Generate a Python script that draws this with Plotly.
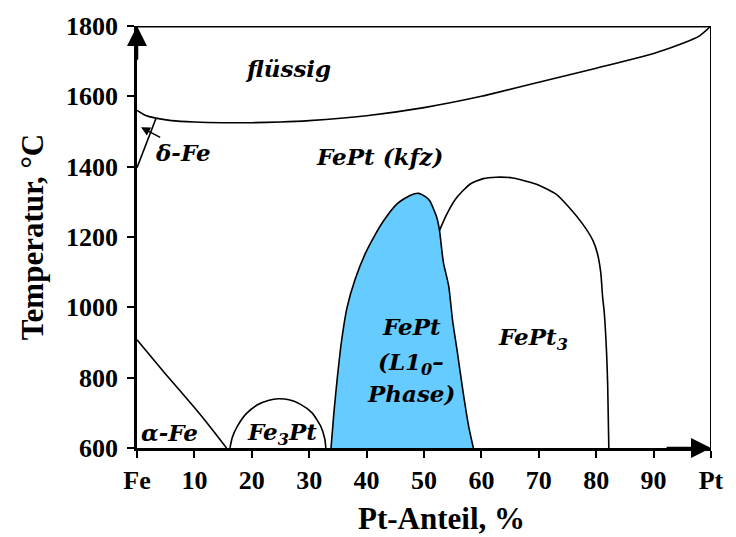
import plotly.graph_objects as go

# Phase boundaries of the Fe-Pt system (x: at.% Pt, T: °C)
liq_x = [0, 1, 2, 4, 6, 10, 15, 20, 25, 30, 40, 50, 60, 70, 80, 90, 95, 98, 100]
liq_T = [1560, 1550, 1543, 1536, 1531, 1527, 1525, 1525, 1527, 1531, 1545, 1568, 1600, 1640, 1680, 1722, 1750, 1772, 1800]

delta_x = [0, 3.3]
delta_T = [1397, 1537]

alpha_x = [0, 5, 10, 13, 15.6]
alpha_T = [908, 810, 715, 655, 600]

fe3pt_x = [16.2, 16.6, 17.5, 19, 21, 23, 24.6, 26.5, 28.5, 30.5, 32, 32.7, 32.9]
fe3pt_T = [600, 630, 662, 697, 723, 736, 740, 737, 724, 700, 662, 627, 600]

l10_x = [33.8, 34.3, 34.9, 35.6, 36.6, 38.0, 39.8, 41.5, 43.0, 45.3, 47.0, 48.2, 49.1, 50.3, 51.0, 52.2,
         52.7, 53.1, 53.4, 54.3, 55.0, 55.8, 56.8, 57.8, 58.6]
l10_T = [600, 700, 800, 900, 1000, 1080, 1154, 1207, 1247, 1294, 1313, 1322, 1324, 1314, 1303, 1257,
         1219, 1163, 1126, 1061, 960, 874, 760, 660, 600]

fept3_x = [52.7, 54.0, 55.7, 58.0, 60.3, 62.6, 65.5, 67.5, 69.6, 73.0, 75.3, 77.6, 79.4, 80.2, 80.8,
           81.1, 81.4, 81.8, 82.0, 82.2]
fept3_T = [1219, 1266, 1312, 1350, 1366, 1370, 1368, 1360, 1350, 1322, 1284, 1238, 1191, 1154, 1098,
           1033, 986, 874, 780, 600]

x_ticks = [0, 10, 20, 30, 40, 50, 60, 70, 80, 90, 100]
x_labels = ["Fe", "10", "20", "30", "40", "50", "60", "70", "80", "90", "Pt"]
y_ticks = [600, 800, 1000, 1200, 1400, 1600, 1800]

SERIF = "Liberation Serif"
LABEL_FONT = "DejaVu Serif"
line_style = dict(color="black", width=1.6)

fig = go.Figure()

fig.add_trace(go.Scatter(x=l10_x, y=l10_T, mode="lines", fill="toself", fillcolor="#66CCFF",
                         line=dict(line_style, shape="spline", smoothing=0.6), hoverinfo="skip"))
for xs, ts in [(liq_x, liq_T), (delta_x, delta_T), (alpha_x, alpha_T),
               (fe3pt_x, fe3pt_T), (fept3_x, fept3_T)]:
    fig.add_trace(go.Scatter(x=xs, y=ts, mode="lines",
                             line=dict(line_style, shape="spline", smoothing=0.6),
                             hoverinfo="skip"))

# field labels
labels = [
    (26.3, 1678, "flüssig"),
    (8.1, 1440, "δ-Fe"),
    (42.2, 1430, "FePt (kfz)"),
    (47.8, 945, "FePt"),
    (47.8, 840, "(L1<sub>0</sub>–"),
    (47.8, 755, "Phase)"),
    (69.0, 912, "FePt<sub>3</sub>"),
    (5.6, 645, "α-Fe"),
    (25.2, 642, "Fe<sub>3</sub>Pt"),
]
for lx, ly, lt in labels:
    fig.add_annotation(x=lx, y=ly, text=lt, showarrow=False,
                       font=dict(family=LABEL_FONT, size=23, color="black",
                                 weight="bold", style="italic"))

# pointer to the δ-Fe field
fig.add_annotation(x=0.7, y=1512, ax=4.3, ay=1481, axref="x", ayref="y",
                   text="", showarrow=True, arrowhead=2, arrowsize=1.2,
                   arrowwidth=1.5, arrowcolor="black")

# axis arrows
fig.add_annotation(x=0, y=1800, ax=0, ay=1700, axref="x", ayref="y",
                   text="", showarrow=True, arrowhead=2, arrowsize=1.6,
                   arrowwidth=2.5, arrowcolor="black")
fig.add_annotation(x=100, y=600, ax=92, ay=600, axref="x", ayref="y",
                   text="", showarrow=True, arrowhead=2, arrowsize=1.6,
                   arrowwidth=2.5, arrowcolor="black")

# frame: top and right edges
fig.add_shape(type="line", x0=0, x1=100, y0=1800, y1=1800, line=dict(color="black", width=3))
fig.add_shape(type="line", x0=100, x1=100, y0=600, y1=1800, line=dict(color="black", width=2))

tick_font = dict(family=SERIF, size=26, color="black", weight="bold")
title_font = dict(family=SERIF, size=31, color="black", weight="bold")

# x-axis title, set slightly right of the plot centre
fig.add_annotation(x=0.53, y=-0.168, xref="paper", yref="paper", text="Pt-Anteil, %",
                   showarrow=False, xanchor="center", yanchor="middle", font=title_font)

fig.update_layout(
    width=736, height=537,
    margin=dict(l=137, r=20, t=19, b=89),
    paper_bgcolor="white", plot_bgcolor="white",
    showlegend=False,
    font=dict(family=SERIF, color="black"),
)
fig.update_xaxes(
    range=[0, 100], tickvals=x_ticks, ticktext=x_labels,
    showgrid=False, zeroline=False, showline=True, linecolor="black", linewidth=2.5,
    ticks="outside", ticklen=7, tickwidth=2, tickcolor="black",
    tickfont=tick_font,
)
fig.update_yaxes(
    range=[600, 1800], tickvals=y_ticks,
    showgrid=False, zeroline=False, showline=True, linecolor="black", linewidth=2.5,
    ticks="outside", ticklen=7, tickwidth=2, tickcolor="black",
    tickfont=tick_font, ticklabelstandoff=4,
    title=dict(text="Temperatur, °C", font=title_font, standoff=14),
)

fig.write_html("out.html")
